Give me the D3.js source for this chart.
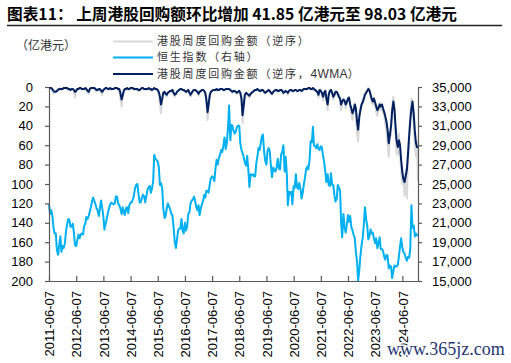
<!DOCTYPE html>
<html><head><meta charset="utf-8">
<script src="https://cdn.jsdelivr.net/npm/d3@7"></script>
<style>body{margin:0;background:#fff}svg{display:block}</style>
</head><body><svg id="c" width="511" height="363"></svg>
<script>
const titleText = "图表11： 上周港股回购额环比增加 41.85 亿港元至 98.03 亿港元";
const unitLabel = "（亿港元）";
const seriesNames = ["港股周度回购金额（逆序）", "恒生指数（右轴）", "港股周度回购金额（逆序，4WMA）"];
const watermark = "www.365jz.com";
const xTickLabels = ["2011-06-07","2012-06-07","2013-06-07","2014-06-07","2015-06-07","2016-06-07","2017-06-07",
  "2018-06-07","2019-06-07","2020-06-07","2021-06-07","2022-06-07","2023-06-07","2024-06-07"];
const leftTicks = [0,20,40,60,80,100,120,140,160,180,200];
const rightTicks = [15000,17000,19000,21000,23000,25000,27000,29000,31000,33000,35000];

// observations: 7th and 21st of each month, Jun 2011 – Dec 2024, then 2025-01-03
const firstYear = 2011, firstMonth = 5, lastYear = 2024, finalDate = "2025-01-03";

// Hang Seng Index (right axis)
const hsi = [
/*2011*/ 22900,21900, 22300,21800, 20500,19900, 19900,18200, 17700,18600, 19600,18000, 18600,18400,
/*2012*/ 18900,20100, 20900,21400, 21300,20600, 20600,20900, 20000,18700, 18600,19200, 19800,19400, 19800,19900, 19800,20700, 20900,21600, 21400,21700, 22200,22600,
/*2013*/ 23300,23600, 23200,22900, 22500,22300, 21700,22500, 23300,22600, 21600,20300, 20900,21400, 22000,22500, 22900,23100, 23000,22900, 23000,23700, 23700,23000,
/*2014*/ 22800,22500, 21900,22600, 22200,21800, 22500,22600, 22000,22800, 23100,23100, 23400,23800, 24600,24900, 25000,24000, 23100,23100, 23600,23900, 23700,23100,
/*2015*/ 23800,24400, 24700,24800, 24100,24500, 25300,28000, 27600,27500, 27300,26800, 24900,25100, 24500,22500, 21500,21700, 22500,23000, 22700,22400, 21900,21800,
/*2016*/ 20500,19100, 18400,19300, 20200,20400, 20400,21400, 20200,19900, 21000,20200, 20600,21900, 22100,23000, 23300,23400, 23700,23300, 22600,22300, 22800,21800,
/*2017*/ 22500,22900, 23300,23900, 23600,24300, 24300,24100, 25000,25600, 25800,25700, 25300,26500, 27500,27000, 27700,28000, 28500,28300, 29000,29800, 28600,29200,
/*2018*/ 30800,33100, 29500,31100, 31000,30500, 30200,30400, 30900,31000, 31000,29200, 28500,28200, 27700,27200, 26900,27900, 26500,24700, 26000,25900, 26000,25800,
/*2019*/ 25800,27100, 27900,28700, 28500,29100, 29900,30100, 28300,27400, 27000,28400, 28700,28400, 26800,25700, 26700,26400, 26300,26700, 27600,26600, 26500,28000,
/*2020*/ 28400,29000, 26300,27800, 26000,22800, 24200,24000, 24200,22900, 24800,24600, 26000,24700, 24500,25100, 24500,23500, 24100,24900, 25700,26500, 26800,26500,
/*2021*/ 27500,29400, 29300,30900, 29000,28900, 28700,29100, 28600,28500, 28900,28800, 27900,27300, 26200,25200, 26000,24900, 24800,26100, 24900,24900, 23800,23200,
/*2022*/ 23500,24900, 24600,24300, 21000,19500, 21900,20600, 20000,20700, 21800,21100, 21700,20600, 20200,19800, 19400,18000, 17000,15000, 16200,17600, 18700,19400,
/*2023*/ 20900,22600, 21300,20700, 19300,19600, 20300,19900, 20000,19400, 18900,19400, 18400,18900, 19500,18300, 18300,18100, 17500,17200, 17700,17600, 16300,16600,
/*2024*/ 16500,15300, 16000,16600, 16500,16500, 16700,17500, 18600,19400, 18400,18000, 17800,17400, 17100,17500, 17400,18300, 22800,20500, 20700,19600, 19900,19700,
/*2025*/ 19760
];

// Weekly HK buyback amount, 100m HKD (left axis, reversed)
const buyback = [
/*2011*/ 1,2, 1,3, 7,6, 4,5, 2,3, 1,3, 2,1,
/*2012*/ 1,1, 2,3, 2,4, 2,2, 4,11, 3,2, 2,1, 1,3, 2,2, 1,3, 6,7, 2,1,
/*2013*/ 1,1, 2,3, 5,4, 2,3, 6,8, 3,2, 1,1, 3,2, 1,3, 2,2, 1,1, 2,3,
/*2014*/ 3,12, 20,9, 5,2, 3,1, 2,3, 1,1, 2,3, 2,3, 3,4, 4,2, 1,2, 3,2,
/*2015*/ 3,2, 1,3, 2,4, 2,1, 3,2, 4,8, 17,27, 13,6, 5,9, 10,6, 5,4, 5,3,
/*2016*/ 7,10, 8,5, 4,3, 2,2, 3,4, 5,6, 4,3, 7,10, 6,4, 3,3, 4,6, 9,5,
/*2017*/ 5,3, 3,5, 8,16, 34,20, 8,5, 4,3, 3,4, 2,4, 3,2, 2,3, 4,3, 2,2,
/*2018*/ 2,3, 4,5, 6,4, 5,6, 7,5, 5,7, 15,37, 20,8, 7,8, 10,11, 8,6, 5,4,
/*2019*/ 4,3, 2,4, 5,4, 3,4, 6,7, 6,4, 3,5, 7,8, 5,4, 3,4, 5,4, 3,4,
/*2020*/ 5,7, 5,4, 6,8, 4,3, 3,5, 5,3, 3,5, 4,3, 4,5, 3,2, 2,3, 2,1,
/*2021*/ 1,2, 3,1, 2,4, 5,6, 11,3, 5,8, 14,7, 5,15, 24,9, 4,3, 8,13, 10,6,
/*2022*/ 6,9, 12,14, 24,16, 12,15, 22,17, 11,10, 22,27, 34,26, 17,28, 48,56, 32,22, 17,14,
/*2023*/ 10,6, 5,3, 1,4, 10,16, 18,11, 18,26, 30,22, 16,24, 18,26, 30,38, 46,60, 72,48,
/*2024*/ 50,20, 10,30, 52,68, 70,48, 66,88, 100,96, 112,85, 115,66, 45,28, 12,16, 40,60, 72,56.18,
/*2025*/ 98.03
];

// 4-week moving average of buyback amount
const buyback4wma = [
/*2011*/ 1,1, 1,2, 4,5, 5,4, 3,2, 2,2, 2,1,
/*2012*/ 1,1, 1,2, 2,3, 2,2, 3,5, 4,2, 2,1, 1,2, 2,2, 1,2, 4,5, 2,1,
/*2013*/ 1,1, 1,2, 3,3, 2,2, 4,5, 3,2, 1,1, 2,2, 1,2, 2,2, 1,1, 1,2,
/*2014*/ 2,6, 13,9, 4,2, 2,1, 2,2, 1,1, 1,2, 2,2, 2,3, 3,2, 1,1, 2,2,
/*2015*/ 2,2, 1,2, 2,3, 2,1, 2,2, 3,5, 10,18, 12,6, 5,7, 8,6, 5,4, 4,3,
/*2016*/ 6,8, 7,5, 4,3, 2,2, 3,3, 4,5, 4,3, 6,8, 6,4, 3,3, 4,5, 7,5,
/*2017*/ 4,3, 3,4, 6,12, 26,18, 8,5, 4,3, 3,3, 2,3, 3,2, 2,2, 3,3, 2,2,
/*2018*/ 2,2, 3,4, 5,4, 4,5, 6,5, 4,6, 12,29, 18,8, 6,7, 8,9, 7,6, 5,4,
/*2019*/ 3,3, 2,3, 4,4, 3,3, 5,6, 5,4, 3,4, 6,7, 5,4, 3,3, 4,4, 3,3,
/*2020*/ 4,6, 5,4, 5,6, 4,3, 3,4, 4,3, 3,4, 4,3, 3,4, 3,2, 2,2, 2,1,
/*2021*/ 1,2, 2,1, 2,3, 4,5, 8,3, 4,6, 10,6, 4,12, 18,8, 4,3, 6,10, 8,5,
/*2022*/ 5,7, 10,12, 18,15, 13,14, 18,16, 12,11, 18,22, 27,24, 18,22, 36,44, 30,24, 18,16,
/*2023*/ 12,8, 6,4, 2,3, 8,12, 15,12, 16,20, 24,22, 18,20, 18,22, 26,30, 36,44, 58,50,
/*2024*/ 40,25, 15,22, 40,55, 62,55, 60,75, 88,95, 98,92, 85,70, 50,35, 22,15, 28,45, 58,62,
/*2025*/ 62
];

const colors = {grey:"#d9d9d9", blue:"#00b0f0", navy:"#002060", axis:"#595959", text:"#000"};

// build dates
const dates = [];
for (let y = firstYear; y <= lastYear; y++) {
  for (let mo = (y === firstYear ? firstMonth : 0); mo < 12; mo++) {
    dates.push(new Date(y, mo, 7));
    dates.push(new Date(y, mo, 21));
  }
}
dates.push(d3.timeParse("%Y-%m-%d")(finalDate));

const parse = d3.timeParse("%Y-%m-%d");
const svg = d3.select("#c");

const x = d3.scaleTime().domain([parse(xTickLabels[0]), parse(finalDate)]).range([49, 418]);
const yL = d3.scaleLinear().domain([0, 200]).range([87, 281]);
const yR = d3.scaleLinear().domain([15000, 35000]).range([281, 87]).clamp(true);

// title
svg.append("text").attr("x", 7).attr("y", 20)
  .attr("font-family", "'Noto Sans CJK SC', sans-serif").attr("font-weight", "bold")
  .attr("font-size", 15.7).attr("fill", "#000").text(titleText);
svg.append("line").attr("x1", 7).attr("x2", 502).attr("y1", 25.5).attr("y2", 25.5)
  .attr("stroke", "#222").attr("stroke-width", 1.3);

// unit label
svg.append("text").attr("x", 16).attr("y", 50)
  .attr("font-family", "'Noto Sans CJK SC', sans-serif").attr("font-size", 12)
  .attr("fill", "#333").text(unitLabel);

// legend
const legColors = [colors.grey, colors.blue, colors.navy];
const legY = [41.5, 57.5, 74];
seriesNames.forEach((n, i) => {
  svg.append("line").attr("x1", 113).attr("x2", 153).attr("y1", legY[i]).attr("y2", legY[i])
    .attr("stroke", legColors[i]).attr("stroke-width", 2.2);
  const t = svg.append("text").attr("x", 157).attr("y", legY[i]).attr("dy", "0.36em")
    .attr("font-family", "'Noto Sans CJK SC', sans-serif").attr("font-size", 11)
    .attr("fill", "#333");
  n.split(/([A-Za-z0-9]+)/).filter(s => s.length).forEach(s => {
    const latin = /^[A-Za-z0-9]+$/.test(s);
    t.append("tspan").attr("letter-spacing", latin ? 0.3 : 1.8)
      .attr("font-family", latin ? "Arial, 'Liberation Sans', sans-serif" : null)
      .attr("font-size", latin ? 12 : null).text(s);
  });
});

// lines
const mk = (vals, ys) => d3.line().x((d, i) => x(dates[i])).y(d => ys(d))(vals);
svg.append("path").attr("d", mk(buyback, yL)).attr("fill", "none")
  .attr("stroke", colors.grey).attr("stroke-width", 2).attr("stroke-linejoin", "round");
svg.append("path").attr("d", mk(hsi, yR)).attr("fill", "none")
  .attr("stroke", colors.blue).attr("stroke-width", 2).attr("stroke-linejoin", "round");
svg.append("path").attr("d", mk(buyback4wma, yL)).attr("fill", "none")
  .attr("stroke", colors.navy).attr("stroke-width", 2).attr("stroke-linejoin", "round");

// axes
const axFont = "Arial, 'Liberation Sans', sans-serif";
const gL = svg.append("g").attr("transform", "translate(49,0)")
  .call(d3.axisLeft(yL).tickValues(leftTicks).tickSizeInner(4).tickSizeOuter(0).tickPadding(12));
const gR = svg.append("g").attr("transform", "translate(418,0)")
  .call(d3.axisRight(yR).tickValues(rightTicks).tickFormat(d3.format(",")).tickSizeInner(4).tickSizeOuter(0).tickPadding(10));
const gX = svg.append("g").attr("transform", "translate(0,281)")
  .call(d3.axisBottom(x).tickValues(xTickLabels.map(parse)).tickFormat(d3.timeFormat("%Y-%m-%d")).tickSizeInner(-5).tickSizeOuter(0));
gX.selectAll(".tick text").attr("transform", "rotate(-90)").attr("x", -10).attr("y", 0)
  .attr("dy", "0.36em").attr("text-anchor", "end");
[gL, gR, gX].forEach(g => {
  g.select(".domain").attr("stroke", colors.axis).attr("stroke-width", 1.2);
  g.selectAll(".tick line").attr("stroke", colors.axis).attr("stroke-width", 1.2);
  g.selectAll(".tick text").attr("font-family", axFont).attr("font-size", 13).attr("fill", colors.text);
});

// watermark
svg.append("text").attr("x", 387).attr("y", 355)
  .attr("font-family", "'Liberation Serif', 'Times New Roman', serif").attr("font-size", 18)
  .attr("fill", "#1f3570").attr("stroke", "#fff").attr("stroke-width", 3).attr("paint-order", "stroke")
  .text(watermark);
</script></body></html>
